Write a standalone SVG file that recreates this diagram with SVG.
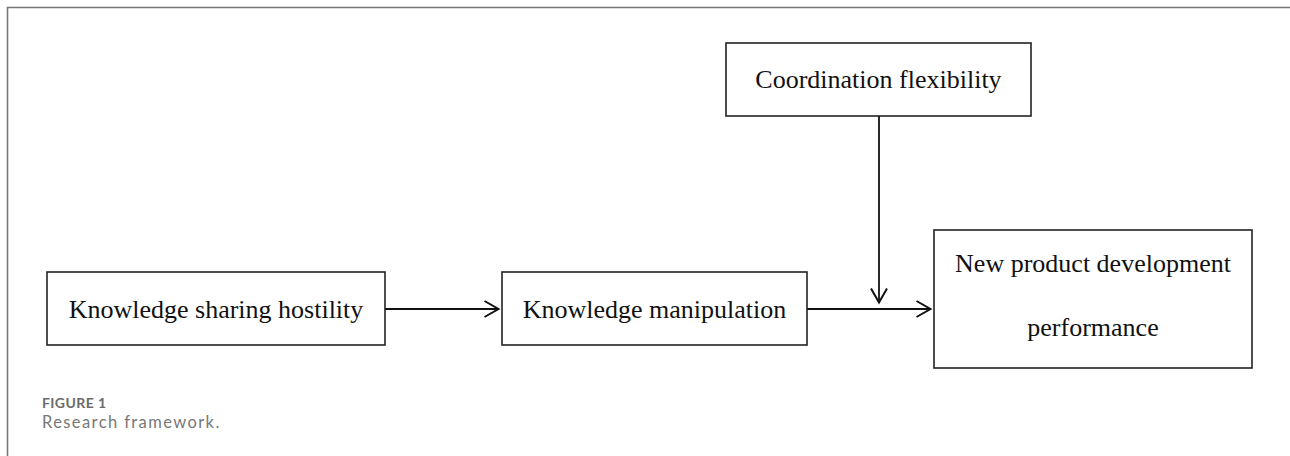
<svg xmlns="http://www.w3.org/2000/svg" width="1290" height="456" viewBox="0 0 1290 456">
<style>
.box{fill:#fff;stroke:#222;stroke-width:1.6}
.t{font-family:"Liberation Serif","Times New Roman",serif;font-size:26px;fill:#111;text-anchor:middle}
.c{stroke:#111;stroke-width:1.8;fill:none}
.ah{stroke:#111;stroke-width:2;fill:none;stroke-linejoin:miter}
</style>
<defs>
<marker id="arr" viewBox="0 0 17 19" refX="15.5" refY="9.5" markerWidth="17" markerHeight="19" markerUnits="userSpaceOnUse" orient="auto">
<path class="ah" d="M1,1.5 L15,9.5 L1,17.5"/>
</marker>
</defs>
<rect width="1290" height="456" fill="#fff"/>
<path d="M7.5,456 V7.5 H1290" fill="none" stroke="#777" stroke-width="1.6"/>
<g id="connectors">
<line class="c" x1="385" y1="309" x2="499" y2="309" marker-end="url(#arr)"/>
<line class="c" x1="807" y1="309" x2="931" y2="309" marker-end="url(#arr)"/>
<line class="c" x1="879" y1="116" x2="879" y2="303" marker-end="url(#arr)"/>
</g>
<g id="coordination">
<rect class="box" x="726" y="43" width="305" height="73"/>
<text class="t" x="878.5" y="88">Coordination flexibility</text>
</g>
<g id="hostility">
<rect class="box" x="47" y="272" width="338" height="73"/>
<text class="t" x="216" y="318">Knowledge sharing hostility</text>
</g>
<g id="manipulation">
<rect class="box" x="502" y="272" width="305" height="73"/>
<text class="t" x="654.5" y="318">Knowledge manipulation</text>
</g>
<g id="npd">
<rect class="box" x="934" y="230" width="318" height="138"/>
<text class="t" x="1093" y="272">New product development</text>
<text class="t" x="1093" y="336">performance</text>
</g>
<g id="caption">
<text x="42" y="408" font-family="Lato, 'Open Sans', sans-serif" font-size="14" font-weight="bold" letter-spacing="0.4" fill="#6b6b6b">FIGURE 1</text>
<text x="42" y="428" font-family="Lato, 'Open Sans', sans-serif" font-size="16.5" letter-spacing="1.4" fill="#777">Research framework.</text>
</g>
</svg>
